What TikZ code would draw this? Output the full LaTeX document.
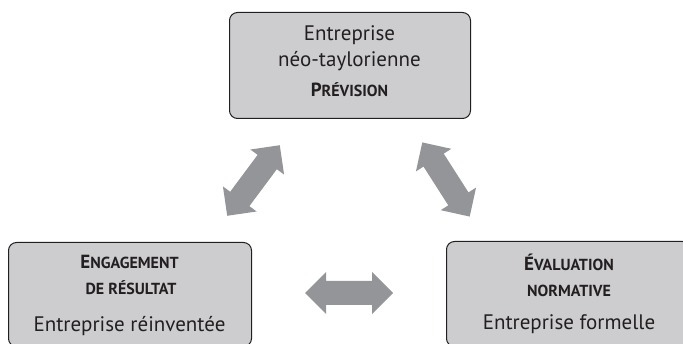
\documentclass[tikz,border=0pt]{standalone}
\usepackage{fontspec}
\setmainfont{PT Sans}
\definecolor{boxfill}{RGB}{205,205,207}
\definecolor{boxline}{RGB}{35,31,32}
\definecolor{arrowgray}{RGB}{147,149,152}
\newcommand\mainsz{\fontsize{21}{24}\selectfont}
\newcommand\fakesc[2]{\textbf{{\fontsize{19}{20}\selectfont #1}{\fontsize{16}{16}\selectfont #2}}}
\tikzset{
  panel/.style={draw=boxline, line width=1pt, fill=boxfill, rounded corners=8pt, inner sep=0pt, anchor=north west},
  txt/.style={anchor=base, inner sep=0pt, text=boxline},
  dblarrow/.pic={\fill[arrowgray] (-44,0) -- (-23,21) -- (-23,12) -- (23,12) -- (23,21) -- (44,0) -- (23,-21) -- (23,-12) -- (-23,-12) -- (-23,-21) -- cycle;}
}
\begin{document}
\begin{tikzpicture}[x=1pt,y=-1pt]
\useasboundingbox (0,0) rectangle (683,344);
\clip (0,0) rectangle (683,344);
% boxes
\node[panel, minimum width=241pt, minimum height=106pt] (top) at (229,12) {};
\node[panel, minimum width=243pt, minimum height=104pt] (left) at (8,242) {};
\node[panel, minimum width=244pt, minimum height=105pt] (right) at (446,241) {};
% top texts
\node[txt] (t1) at (349.5,41) {\mainsz Entreprise};
\node[txt] (t2) at (349.5,67) {\mainsz néo-taylorienne};
\node[txt] (t3) at (349.5,97) {\fakesc{P}{RÉVISION}};
% left texts
\node[txt] (l1) at (129.5,269) {\fakesc{E}{NGAGEMENT}};
\node[txt] (l2) at (131,295) {\fakesc{}{DE RÉSULTAT}};
\node[txt] (l3) at (129.5,332) {\mainsz Entreprise réinventée};
% right texts
\node[txt] (r1) at (569,271) {\fakesc{É}{VALUATION}};
\node[txt] (r2) at (569,297) {\fakesc{}{NORMATIVE}};
\node[txt] (r3) at (569,330) {\mainsz Entreprise formelle};
% arrows
\coordinate (aL) at (253.5,180.5);
\coordinate (aR) at (446,179.5);
\coordinate (aB) at (349,293);
\pic[rotate=53.3] at (aL) {dblarrow};
\pic[rotate=-57.4] at (aR) {dblarrow};
\pic at (aB) {dblarrow};
\end{tikzpicture}
\end{document}
